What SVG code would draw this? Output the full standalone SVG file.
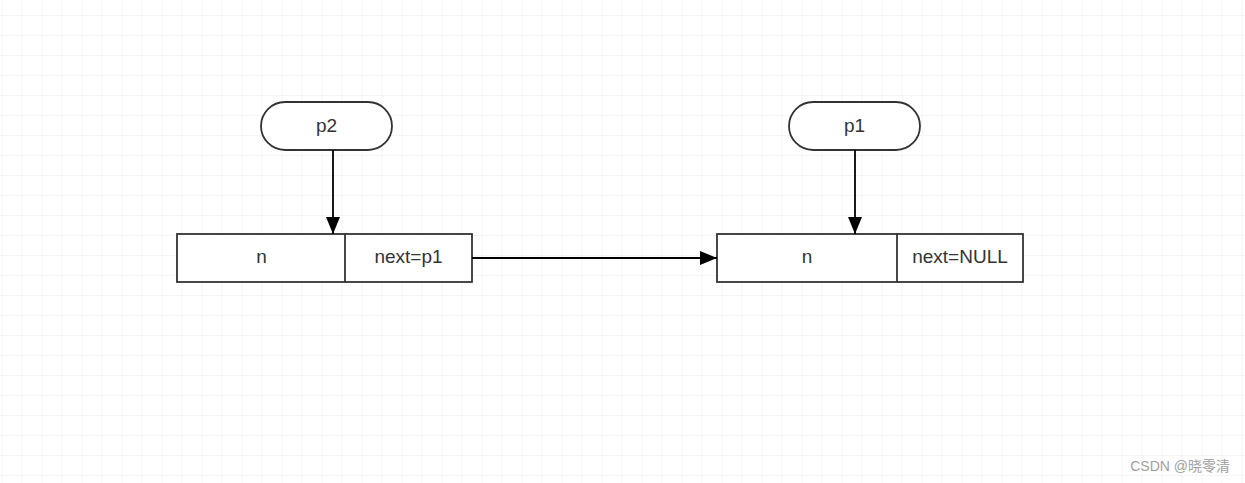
<svg xmlns="http://www.w3.org/2000/svg" width="1245" height="483" viewBox="0 0 1245 483">
<defs>
<pattern id="grid" x="1.5" y="15" width="20" height="20" patternUnits="userSpaceOnUse">
<path d="M 0 0 L 20 0 M 0 0 L 0 20" fill="none" stroke="#ebebeb" stroke-width="1"/>
</pattern>
<marker id="arr" viewBox="0 0 17 14" refX="17" refY="7" markerWidth="17" markerHeight="14" markerUnits="userSpaceOnUse" orient="auto">
<path d="M0,0 L17,7 L0,14 z" fill="#000"/>
</marker>
<style>
.shape{fill:#fff;stroke:#333;stroke-width:1.8}
.lbl{font-family:"Liberation Sans",Arial,sans-serif;font-size:19px;fill:#333;text-anchor:middle;dominant-baseline:central}
.edge{fill:none;stroke:#000;stroke-width:1.8}
</style>
</defs>
<rect width="1245" height="483" fill="#fff"/>
<rect width="1245" height="483" fill="url(#grid)"/>
<g id="p2">
<rect class="shape" x="261" y="102" width="131" height="48" rx="24"/>
<text class="lbl" x="326.5" y="125">p2</text>
</g>
<g id="p1">
<rect class="shape" x="789" y="102" width="131" height="48" rx="24"/>
<text class="lbl" x="854.5" y="125">p1</text>
</g>
<g id="node1">
<rect class="shape" x="177" y="234" width="295" height="48"/>
<line x1="345" y1="234" x2="345" y2="282" stroke="#333" stroke-width="1.8"/>
<text class="lbl" x="261.5" y="256">n</text>
<text class="lbl" x="408.5" y="256">next=p1</text>
</g>
<g id="node2">
<rect class="shape" x="717" y="234" width="306" height="48"/>
<line x1="897" y1="234" x2="897" y2="282" stroke="#333" stroke-width="1.8"/>
<text class="lbl" x="807" y="256">n</text>
<text class="lbl" x="960" y="256">next=NULL</text>
</g>
<g id="connectors">
<line class="edge" x1="333" y1="150" x2="333" y2="234" style="marker-end:url(#arr)"/>
<line class="edge" x1="855" y1="150" x2="855" y2="234" style="marker-end:url(#arr)"/>
<line class="edge" x1="472" y1="258" x2="717" y2="258" style="marker-end:url(#arr)"/>
</g>
<text x="1230" y="471" text-anchor="end" font-family="'Liberation Sans','Noto Sans CJK SC',sans-serif" font-size="14" fill="#a0a0a0">CSDN @晓零清</text>
</svg>
